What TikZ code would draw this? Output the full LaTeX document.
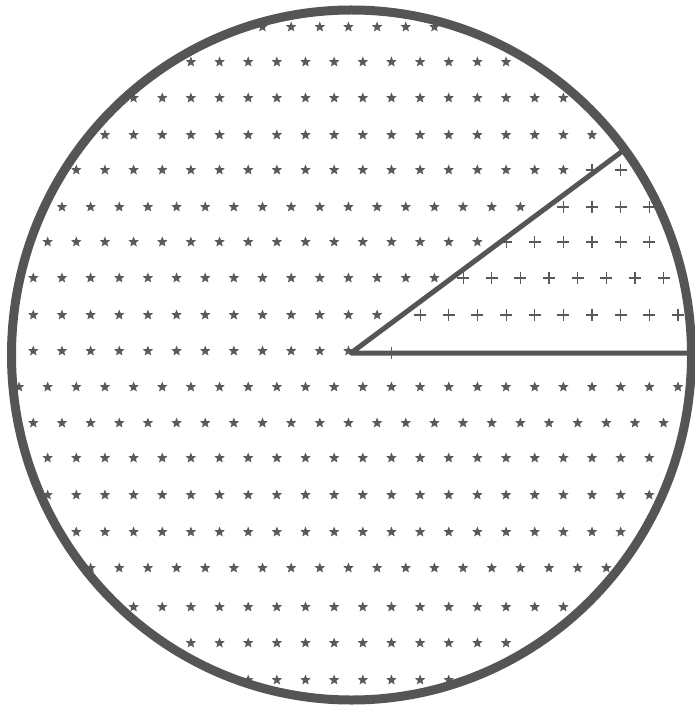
\documentclass[tikz,border=0pt]{standalone}
\usetikzlibrary{shapes.geometric,shapes.misc}
\definecolor{inkc}{HTML}{555555}
\definecolor{markc}{HTML}{5A5A5A}
\tikzset{
  starmark/.style={star, star points=5, star point ratio=2.3, minimum size=11pt, inner sep=0pt, fill=markc, draw=none},
  plusmark/.style={cross out, draw=markc, rotate=45, minimum size=7.5pt, inner sep=0pt, line width=1.1pt},
  rim/.style={draw=inkc, line width=9pt},
  radius line/.style={draw=inkc, line width=5pt, line cap=round, line join=round}
}
\begin{document}
\begin{tikzpicture}[x=1pt,y=-1pt]
\useasboundingbox (0,0) rectangle (694,708);
% star marks: y / grid offset / first column / last column
\foreach \y/\g/\a/\b in {27/1/8/14, 62/0/6/17, 98/0/4/19, 135/0/3/20, 170/0/2/19,
  207/1/1/17, 242/0/1/16, 278/1/0/14, 315/1/0/12, 351/1/0/11, 387/0/0/23,
  423/1/0/22, 458/0/1/22, 495/0/1/22, 532/0/2/21, 568/1/2/20, 607/0/4/19,
  643/0/6/17, 680/0/8/15}{
  \foreach \k in {\a,...,\b}{
    \node[starmark] (s-\y-\k) at ({19+14.3*\g+28.65*\k},\y) {};
  }
}
% plus marks in the sector
\foreach \y/\g/\a/\b in {170/0/20/21, 207/0/19/22, 242/0/17/22, 278/1/15/22, 315/0/14/23, 353/0/13/13}{
  \foreach \k in {\a,...,\b}{
    \node[plusmark] (p-\y-\k) at ({19+14.3*\g+28.65*\k},\y) {};
  }
}
% circle and sector
\coordinate (O) at (351,353);
\coordinate (A) at (624,150);
\coordinate (B) at (692,353);
\draw[rim] (351.5,355) ellipse [x radius=340, y radius=345];
\draw[radius line] (A) -- (O) -- (B);
\end{tikzpicture}
\end{document}
